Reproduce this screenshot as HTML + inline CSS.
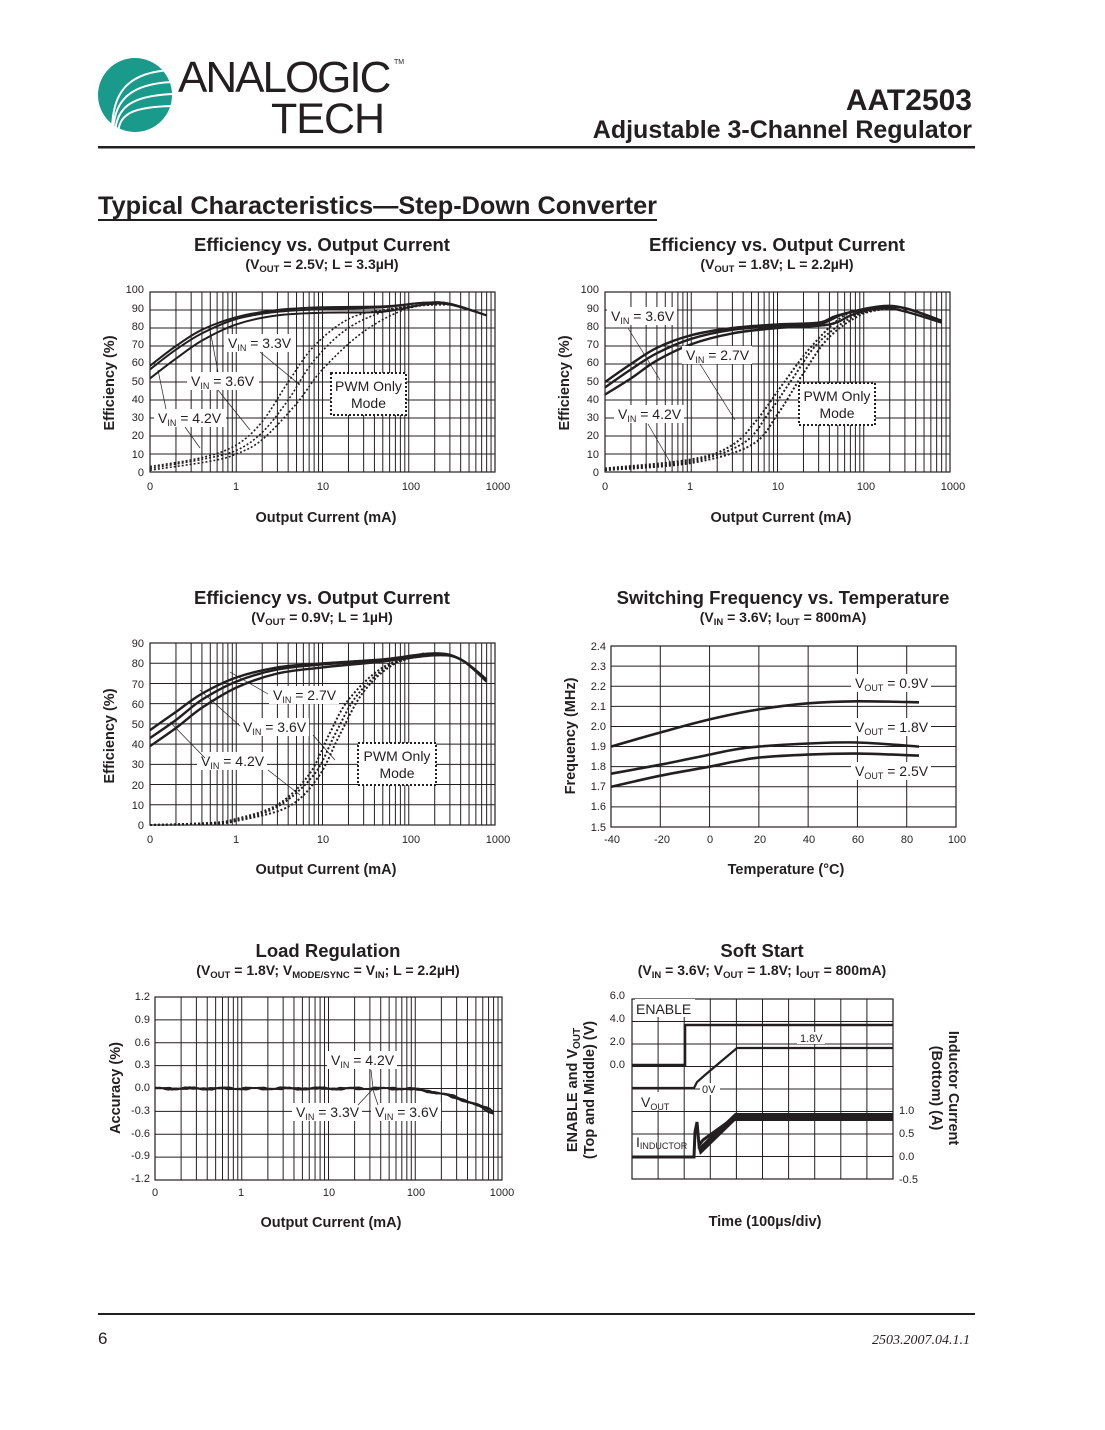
<!DOCTYPE html>
<html><head><meta charset="utf-8"><style>
html,body{margin:0;padding:0;background:#fff}
svg{display:block}
text{font-family:"Liberation Sans",Arial,sans-serif;fill:#231f20}
.t{font-size:11px}
.ax{font-size:14.5px;font-weight:bold}
.ti{font-size:18.5px;font-weight:bold}
.st{font-size:14px;font-weight:bold}
.lb{font-size:14px}
</style></head><body>
<svg id="s" width="1105" height="1430" viewBox="0 0 1105 1430" xmlns="http://www.w3.org/2000/svg">
<circle cx="135" cy="95" r="37" fill="#1a9a8a"/>
<g fill="none" stroke="#fff" stroke-width="2">
<path d="M112 132 C112 95 125 72 172 70"/><path d="M113 132 C114 102 128 84 172 82"/>
<path d="M115 132 C117 108 130 96 172 94"/><path d="M118 132 C120 114 132 107 172 106"/>
</g>
<text x="178" y="92" style="font-size:44px;letter-spacing:-2px;fill:#231f20">ANALOGIC</text>
<text x="394" y="64" style="font-size:7px">TM</text>
<text x="271" y="133" style="font-size:43px;font-weight:300;letter-spacing:-1px">TECH</text>
<text x="972" y="110" text-anchor="end" style="font-size:30px;font-weight:bold">AAT2503</text>
<text x="972" y="138" text-anchor="end" style="font-size:25px;font-weight:bold">Adjustable 3-Channel Regulator</text>
<rect x="98" y="146" width="877" height="2.5" fill="#231f20"/>
<text x="98" y="214" style="font-size:25.3px;font-weight:bold">Typical Characteristics—Step-Down Converter</text>
<rect x="98" y="219" width="559" height="2" fill="#231f20"/>
<rect x="98" y="1313" width="877" height="2" fill="#231f20"/>
<text x="98" y="1344" style="font-size:17px">6</text>
<text x="970" y="1344" text-anchor="end" style="font-family:'Liberation Serif',serif;font-style:italic;font-size:14px">2503.2007.04.1.1</text>

<text x="322" y="251" text-anchor="middle" class="ti">Efficiency vs. Output Current</text>
<text x="322" y="269" text-anchor="middle" class="st">(V<tspan font-size="9.5" dy="3">OUT</tspan><tspan dy="-3"> = 2.5V; L = 3.3µH)</tspan></text>
<text x="777" y="251" text-anchor="middle" class="ti">Efficiency vs. Output Current</text>
<text x="777" y="269" text-anchor="middle" class="st">(V<tspan font-size="9.5" dy="3">OUT</tspan><tspan dy="-3"> = 1.8V; L = 2.2µH)</tspan></text>
<text x="322" y="604" text-anchor="middle" class="ti">Efficiency vs. Output Current</text>
<text x="322" y="622" text-anchor="middle" class="st">(V<tspan font-size="9.5" dy="3">OUT</tspan><tspan dy="-3"> = 0.9V; L = 1µH)</tspan></text>
<text x="783" y="604" text-anchor="middle" class="ti">Switching Frequency vs. Temperature</text>
<text x="783" y="622" text-anchor="middle" class="st">(V<tspan font-size="9.5" dy="3">IN</tspan><tspan dy="-3"> = 3.6V; I</tspan><tspan font-size="9.5" dy="3">OUT</tspan><tspan dy="-3"> = 800mA)</tspan></text>
<text x="328" y="957" text-anchor="middle" class="ti">Load Regulation</text>
<text x="328" y="975" text-anchor="middle" class="st">(V<tspan font-size="9.5" dy="3">OUT</tspan><tspan dy="-3"> = 1.8V; V</tspan><tspan font-size="9.5" dy="3">MODE/SYNC</tspan><tspan dy="-3"> = V</tspan><tspan font-size="9.5" dy="3">IN</tspan><tspan dy="-3">; L = 2.2µH)</tspan></text>
<text x="762" y="957" text-anchor="middle" class="ti">Soft Start</text>
<text x="762" y="975" text-anchor="middle" class="st">(V<tspan font-size="9.5" dy="3">IN</tspan><tspan dy="-3"> = 3.6V; V</tspan><tspan font-size="9.5" dy="3">OUT</tspan><tspan dy="-3"> = 1.8V; I</tspan><tspan font-size="9.5" dy="3">OUT</tspan><tspan dy="-3"> = 800mA)</tspan></text>

<text x="326" y="522" text-anchor="middle" class="ax">Output Current (mA)</text>
<text x="781" y="522" text-anchor="middle" class="ax">Output Current (mA)</text>
<text x="326" y="874" text-anchor="middle" class="ax">Output Current (mA)</text>
<text x="786" y="874" text-anchor="middle" class="ax">Temperature (°C)</text>
<text x="331" y="1227" text-anchor="middle" class="ax">Output Current (mA)</text>
<text x="765" y="1226" text-anchor="middle" class="ax">Time (100µs/div)</text>
<text transform="translate(114,383) rotate(-90)" text-anchor="middle" class="ax">Efficiency (%)</text>
<text transform="translate(569,383) rotate(-90)" text-anchor="middle" class="ax">Efficiency (%)</text>
<text transform="translate(114,736) rotate(-90)" text-anchor="middle" class="ax">Efficiency (%)</text>
<text transform="translate(575,736) rotate(-90)" text-anchor="middle" class="ax">Frequency (MHz)</text>
<text transform="translate(120,1088) rotate(-90)" text-anchor="middle" class="ax">Accuracy (%)</text>
<text transform="translate(577,1090) rotate(-90)" text-anchor="middle" class="ax">ENABLE and V<tspan font-size="10" dy="3">OUT</tspan></text>
<text transform="translate(594,1090) rotate(-90)" text-anchor="middle" class="ax">(Top and Middle) (V)</text>
<text transform="translate(949,1088) rotate(90)" text-anchor="middle" class="ax">Inductor Current</text>
<text transform="translate(932,1088) rotate(90)" text-anchor="middle" class="ax">(Bottom) (A)</text>

<g id="g"></g>

<g class="t" text-anchor="end">
<text x="144" y="293">100</text><text x="144" y="312">90</text><text x="144" y="330">80</text><text x="144" y="348">70</text><text x="144" y="366">60</text><text x="144" y="385">50</text><text x="144" y="403">40</text><text x="144" y="421">30</text><text x="144" y="439">20</text><text x="144" y="458">10</text><text x="144" y="476">0</text>
<text x="599" y="293">100</text><text x="599" y="312">90</text><text x="599" y="330">80</text><text x="599" y="348">70</text><text x="599" y="366">60</text><text x="599" y="385">50</text><text x="599" y="403">40</text><text x="599" y="421">30</text><text x="599" y="439">20</text><text x="599" y="458">10</text><text x="599" y="476">0</text>
<text x="144" y="647">90</text><text x="144" y="667">80</text><text x="144" y="688">70</text><text x="144" y="708">60</text><text x="144" y="728">50</text><text x="144" y="748">40</text><text x="144" y="768">30</text><text x="144" y="789">20</text><text x="144" y="809">10</text><text x="144" y="829">0</text>
<text x="606" y="650">2.4</text><text x="606" y="670">2.3</text><text x="606" y="690">2.2</text><text x="606" y="710">2.1</text><text x="606" y="730">2.0</text><text x="606" y="750">1.9</text><text x="606" y="770">1.8</text><text x="606" y="790">1.7</text><text x="606" y="810">1.6</text><text x="606" y="831">1.5</text>
<text x="150" y="1000">1.2</text><text x="150" y="1023">0.9</text><text x="150" y="1046">0.6</text><text x="150" y="1068">0.3</text><text x="150" y="1091">0.0</text><text x="150" y="1114">-0.3</text><text x="150" y="1137">-0.6</text><text x="150" y="1159">-0.9</text><text x="150" y="1182">-1.2</text>
<text x="625" y="999">6.0</text><text x="625" y="1022">4.0</text><text x="625" y="1045">2.0</text><text x="625" y="1068">0.0</text>
</g>
<g class="t" text-anchor="start">
<text x="899" y="1114">1.0</text><text x="899" y="1137">0.5</text><text x="899" y="1160">0.0</text><text x="899" y="1183">-0.5</text>
</g>
<g class="t" text-anchor="middle">
<text x="150" y="490">0</text><text x="236" y="490">1</text><text x="323" y="490">10</text><text x="411" y="490">100</text><text x="498" y="490">1000</text>
<text x="605" y="490">0</text><text x="690" y="490">1</text><text x="778" y="490">10</text><text x="866" y="490">100</text><text x="953" y="490">1000</text>
<text x="150" y="843">0</text><text x="236" y="843">1</text><text x="323" y="843">10</text><text x="411" y="843">100</text><text x="498" y="843">1000</text>
<text x="612" y="843">-40</text><text x="662" y="843">-20</text><text x="710" y="843">0</text><text x="760" y="843">20</text><text x="809" y="843">40</text><text x="858" y="843">60</text><text x="907" y="843">80</text><text x="957" y="843">100</text>
<text x="155" y="1196">0</text><text x="241" y="1196">1</text><text x="329" y="1196">10</text><text x="416" y="1196">100</text><text x="502" y="1196">1000</text>
</g>
<g id="lab"></g>
</svg>
<script>
var NS="http://www.w3.org/2000/svg",G=document.getElementById('g'),L=document.getElementById('lab');
function el(p,t,a){var e=document.createElementNS(NS,t);for(var k in a)e.setAttribute(k,a[k]);p.appendChild(e);return e;}
function line(x1,y1,x2,y2,w){el(G,'line',{x1:x1,y1:y1,x2:x2,y2:y2,stroke:'#231f20','stroke-width':w||1});}
function frame(x0,y0,x1,y1){el(G,'rect',{x:x0,y:y0,width:x1-x0,height:y1-y0,fill:'none',stroke:'#231f20','stroke-width':1.2});}
function logGrid(x0,x1,y0,y1,nh){var dw=(x1-x0)/4;for(var d=0;d<4;d++)for(var k=1;k<=9;k++){var x=x0+(d+Math.log10(k))*dw;line(x,y0,x,y1,1);}
 for(var i=0;i<=nh;i++){var y=y0+(y1-y0)*i/nh;line(x0,y,x1,y,1);}frame(x0,y0,x1,y1);}
function linGrid(x0,x1,y0,y1,nv,nh){for(var i=0;i<=nv;i++){var x=x0+(x1-x0)*i/nv;line(x,y0,x,y1,1);}for(var i=0;i<=nh;i++){var y=y0+(y1-y0)*i/nh;line(x0,y,x1,y,1);}frame(x0,y0,x1,y1);}
// Catmull-Rom in screen space
function spline(P,dash,w){var d='M'+P[0][0].toFixed(1)+' '+P[0][1].toFixed(1);
 for(var i=0;i<P.length-1;i++){var p0=P[Math.max(0,i-1)],p1=P[i],p2=P[i+1],p3=P[Math.min(P.length-1,i+2)];
  var c1=[p1[0]+(p2[0]-p0[0])/6,p1[1]+(p2[1]-p0[1])/6],c2=[p2[0]-(p3[0]-p1[0])/6,p2[1]-(p3[1]-p1[1])/6];
  d+='C'+c1[0].toFixed(1)+' '+c1[1].toFixed(1)+' '+c2[0].toFixed(1)+' '+c2[1].toFixed(1)+' '+p2[0].toFixed(1)+' '+p2[1].toFixed(1);}
 var at={d:d,fill:'none',stroke:'#231f20','stroke-width':w||2.2,'stroke-linejoin':'round'};if(dash)at['stroke-dasharray']=dash;el(G,'path',at);}
function logc(pts,x0,x1,fy,dash,w){var dw=(x1-x0)/4;spline(pts.map(function(p){return [x0+(Math.log10(p[0])+1)*dw,fy(p[1])];}),dash,w);}
function lbl(x,y,txt,sub,rest,bx){el(L,'rect',{x:bx[0],y:bx[1],width:bx[2],height:bx[3],fill:'#fff'});
 var t=el(L,'text',{x:x,y:y,'class':'lb'});t.appendChild(document.createTextNode(txt));var s=el(t,'tspan',{'font-size':'9',dy:'3'});s.textContent=sub;var r=el(t,'tspan',{dy:'-3'});r.textContent=rest;}
function lead(x1,y1,x2,y2){el(L,'line',{x1:x1,y1:y1,x2:x2,y2:y2,stroke:'#231f20','stroke-width':0.7});}
function box(x,y,w,h,t1,t2){el(L,'rect',{x:x,y:y,width:w,height:h,fill:'#fff',stroke:'#231f20','stroke-width':2,'stroke-dasharray':'2 2'});
 var a=el(L,'text',{x:x+w/2,y:y+h/2-3,'text-anchor':'middle','class':'lb'});a.textContent=t1;var b=el(L,'text',{x:x+w/2,y:y+h/2+14,'text-anchor':'middle','class':'lb'});b.textContent=t2;}

var y1=function(v){return 472-v*1.8;};
logGrid(150,495,292,472,10);
[[[0.1,59],[0.2,70],[0.4,79],[1,86],[3,90],[10,91.5],[50,92],[150,94],[300,93.5],[800,87]],
 [[0.1,57],[0.2,68],[0.4,77],[1,85],[3,89],[10,90.5],[50,91.5],[150,94],[300,93.5],[800,87]],
 [[0.1,52],[0.2,63],[0.4,73],[1,82],[3,87],[10,88.5],[50,89],[150,93],[300,93],[800,87]]].forEach(function(p){logc(p,150,495,y1,null,2);});
[[[0.1,3],[0.4,8],[1,15],[2,28],[4,50],[8,70],[20,85],[50,90],[150,93]],
 [[0.1,2],[0.4,7],[1,12],[2,22],[4,40],[8,62],[20,80],[60,90],[200,93.5]],
 [[0.1,1],[0.5,6],[1,10],[2,18],[5,38],[10,57],[30,78],[100,91],[300,93]]].forEach(function(p){logc(p,150,495,y1,'2 2',1.6);});
lbl(228,348,'V','IN',' = 3.3V',[224,334,72,18]);lead(260,352,300,385);
lbl(191,386,'V','IN',' = 3.6V',[187,372,72,18]);lead(218,390,250,430);lead(218,372,210,330);
lbl(158,423,'V','IN',' = 4.2V',[154,409,72,18]);lead(185,427,200,448);lead(166,409,158,370);
box(331,373,75,42,'PWM Only','Mode');

logGrid(605,950,292,472,10);
[[[0.1,50],[0.2,60],[0.4,69],[1,76],[3,80],[10,82],[30,83],[50,87],[150,92],[300,91],[800,84]],
 [[0.1,47],[0.2,57],[0.4,66],[1,74],[3,79],[10,81],[30,82],[60,88],[150,91.5],[300,91],[800,84]],
 [[0.1,43],[0.2,52],[0.4,62],[1,71],[3,77],[10,80],[40,82],[80,88],[200,91],[800,83]]].forEach(function(p){logc(p,605,950,y1,null,2.4);});
[[[0.1,2],[1,7],[3,15],[6,30],[12,50],[25,70],[60,87],[150,91]],
 [[0.1,1.5],[1,6],[4,16],[8,33],[15,52],[30,72],[80,87],[200,91]],
 [[0.1,1],[1,5],[5,15],[10,32],[20,55],[40,75],[100,88],[250,91]]].forEach(function(p){logc(p,605,950,y1,'2 2',2);});
lbl(611,321,'V','IN',' = 3.6V',[607,307,70,18]);lead(628,328,660,380);
lbl(686,360,'V','IN',' = 2.7V',[682,346,70,18]);lead(700,364,735,420);
lbl(618,419,'V','IN',' = 4.2V',[614,405,70,18]);lead(648,424,670,462);
box(799,383,76,42,'PWM Only','Mode');

var y3=function(v){return 825-v*2.02;};
logGrid(150,495,643,825,9);
[[[0.1,47],[0.2,56],[0.4,65],[1,73],[3,78],[10,80],[50,82],[200,85],[400,82],[800,72]],
 [[0.1,43],[0.2,52],[0.4,62],[1,71],[3,77],[10,79.5],[50,81.5],[200,84.5],[400,82],[800,72]],
 [[0.1,39],[0.2,48],[0.4,58],[1,68],[3,75],[10,78],[50,81],[200,84],[400,82],[800,71]]].forEach(function(p){logc(p,150,495,y3,null,2.4);});
[[[0.1,0],[0.5,1],[1,3],[3,10],[7,25],[12,45],[20,62],[50,78],[150,85]],
 [[0.1,0],[0.5,1],[1,2.5],[3,9],[8,25],[14,45],[25,64],[60,79],[180,85]],
 [[0.1,0],[0.5,0.5],[1,2],[4,9],[9,24],[16,45],[30,66],[70,80],[200,85]]].forEach(function(p){logc(p,150,495,y3,'2 2',2);});
lbl(273,700,'V','IN',' = 2.7V',[269,686,70,18]);lead(268,694,230,672);
lbl(243,732,'V','IN',' = 3.6V',[239,718,70,18]);lead(240,726,200,690);lead(313,735,335,760);
lbl(201,766,'V','IN',' = 4.2V',[197,752,70,18]);lead(205,758,170,722);lead(268,770,300,795);
box(358,743,78,42,'PWM Only','Mode');

linGrid(611,956,646,827,7,9);
var x4=function(t){return 611+(t+40)*345/140;},y4=function(f){return 827-(f-1.5)*181/0.9;};
function c4(a){spline(a.map(function(p){return [x4(p[0]),y4(p[1])];}),null,2.6);}
c4([[-40,1.9],[-20,1.97],[0,2.035],[20,2.085],[40,2.115],[60,2.125],[85,2.12]]);
c4([[-40,1.765],[-20,1.81],[0,1.86],[10,1.885],[20,1.9],[40,1.915],[60,1.92],[85,1.9]]);
c4([[-40,1.7],[-20,1.755],[0,1.8],[10,1.825],[20,1.845],[40,1.86],[60,1.865],[85,1.855]]);
lbl(855,688,'V','OUT',' = 0.9V',[851,674,80,18]);
lbl(855,732,'V','OUT',' = 1.8V',[851,718,80,18]);
lbl(855,776,'V','OUT',' = 2.5V',[851,762,80,18]);

logGrid(155,502,997,1180,8);
var y5=function(v){return 1088.5-v*76;};
[0,1,2].forEach(function(k){var d='';for(var i=0;i<=200;i++){var u=-1+i*3.9/200;var I=Math.pow(10,u);var v=0.006*Math.sin(i*0.9+k*2)+0.01*Math.sin(i*0.33+k);if(I>60)v-=0.3*Math.pow((u-1.78)/1.12,2)*(1+0.05*k);
 var x=155+(u+1)*(347/4);d+=(i?'L':'M')+x.toFixed(1)+' '+y5(v).toFixed(1);}el(G,'path',{d:d,fill:'none',stroke:'#231f20','stroke-width':1.8});});
lbl(331,1065,'V','IN',' = 4.2V',[327,1051,70,18]);lead(371,1070,373,1088);
lbl(296,1117,'V','IN',' = 3.3V',[292,1103,70,18]);lead(358,1105,372,1090);
lbl(375,1117,'V','IN',' = 3.6V',[371,1103,70,18]);lead(378,1105,373,1090);

linGrid(632,893,999,1179,10,8);
el(G,'path',{d:'M632 1065 L685 1065 L685 1025 L893 1025',fill:'none',stroke:'#231f20','stroke-width':2.6});
el(G,'path',{d:'M632 1088 L694 1088 L697 1082 L705 1075 L737 1048 L893 1048',fill:'none',stroke:'#231f20','stroke-width':2.2});
el(G,'path',{d:'M632 1157 L694 1157 L695 1132 L697 1122 L699 1145 L703 1140 L735 1117 L893 1117',fill:'none',stroke:'#231f20','stroke-width':3});
el(G,'rect',{x:735,y:1113,width:158,height:8,fill:'#231f20'});
el(G,'path',{d:'M698 1148 L735 1113 L735 1121 L700 1155Z',fill:'#231f20'});
el(L,'rect',{x:635,y:999,width:60,height:18,fill:'#fff'});
var t=el(L,'text',{x:636,y:1014,'class':'lb'});t.textContent='ENABLE';
el(L,'rect',{x:797,y:1032,width:28,height:12,fill:'#fff'});
t=el(L,'text',{x:800,y:1042,'class':'t'});t.textContent='1.8V';
el(L,'rect',{x:700,y:1083,width:20,height:12,fill:'#fff'});
t=el(L,'text',{x:702,y:1093,'class':'t'});t.textContent='0V';
lbl(641,1107,'V','OUT','',[638,1092,40,18]);
t=el(L,'text',{x:636,y:1147,'class':'lb'});t.textContent='I';var s=el(t,'tspan',{'font-size':'9',dy:'2'});s.textContent='INDUCTOR';
</script>
</body></html>
